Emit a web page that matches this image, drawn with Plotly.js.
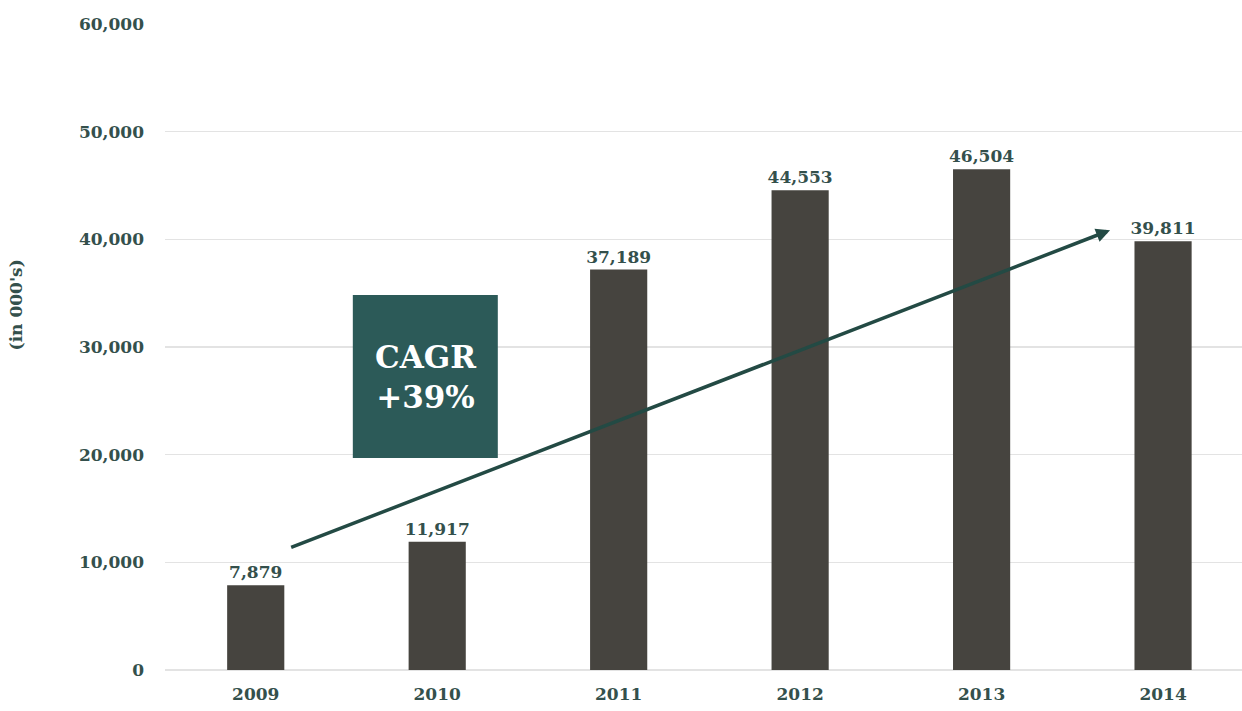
<!DOCTYPE html>
<html>
<head>
<meta charset="utf-8">
<script src="https://cdn.plot.ly/plotly-3.0.1.min.js"></script>
<style>html,body{margin:0;padding:0;background:#fff;}#chart{width:1242px;height:711px;}</style>
</head>
<body>
<div id="chart"></div>
<script>
const years = ['2009', '2010', '2011', '2012', '2013', '2014'];
const values = [7879, 11917, 37189, 44553, 46504, 39811];
const yTicks = [0, 10000, 20000, 30000, 40000, 50000, 60000];
const yTickLabels = ['0', '10,000', '20,000', '30,000', '40,000', '50,000', '60,000'];
const cagrText = 'CAGR<br>+39%';
const yTitle = "(in 000's)";

const font = 'DejaVu Serif, Georgia, serif';
const textColor = '#34504c';

const trace = {
  type: 'bar',
  x: years.map((_, i) => i),
  y: values,
  width: 0.315,
  marker: {color: '#46443f'},
  text: values.map(v => v.toLocaleString('en-US')),
  textposition: 'outside',
  constraintext: 'none',
  cliponaxis: false,
  textfont: {family: font, size: 17, color: textColor, weight: 'bold'},
  hoverinfo: 'skip'
};

const layout = {
  width: 1242, height: 711,
  margin: {l: 165, r: 0, t: 24, b: 41},
  paper_bgcolor: '#fff', plot_bgcolor: '#fff',
  showlegend: false,
  xaxis: {
    range: [-0.5, 5.435],
    tickvals: years.map((_, i) => i),
    ticktext: years,
    showgrid: false, zeroline: false, showline: false,
    ticks: '',
    ticklabelstandoff: 12,
    tickfont: {family: font, size: 17, color: textColor, weight: 'bold'},
    fixedrange: true
  },
  yaxis: {
    range: [0, 60000],
    tickvals: yTicks,
    ticktext: yTickLabels,
    showgrid: true, gridcolor: '#e3e3e3', gridwidth: 1.5,
    zeroline: true, zerolinecolor: '#e3e3e3', zerolinewidth: 1.5,
    showline: false, ticks: '',
    ticklabelstandoff: 20,
    tickfont: {family: font, size: 17, color: textColor, weight: 'bold'},
    fixedrange: true
  },
  shapes: [{
    type: 'rect', xref: 'x', yref: 'y',
    x0: 0.535, x1: 1.334, y0: 19680, y1: 34820,
    fillcolor: '#2c5a58', line: {width: 0}, layer: 'above'
  }],
  annotations: [
    {
      xref: 'x', yref: 'y', axref: 'x', ayref: 'y',
      x: 4.708, y: 40850, ax: 0.187, ay: 11330,
      showarrow: true, arrowhead: 2, arrowsize: 0.8, arrowwidth: 3.5,
      arrowcolor: '#234a44', text: ''
    },
    {
      xref: 'x', yref: 'y', x: 0.9345, y: 27250,
      text: cagrText, showarrow: false,
      font: {family: font, size: 31, color: '#ffffff', weight: 'bold'},
      align: 'center'
    },
    {
      xref: 'paper', yref: 'paper', x: -0.138, y: 0.565,
      xanchor: 'center', yanchor: 'middle',
      text: yTitle, textangle: -90, showarrow: false,
      font: {family: font, size: 17, color: textColor, weight: 'bold'}
    }
  ]
};

Plotly.newPlot('chart', [trace], layout, {displayModeBar: false, staticPlot: true});
</script>
</body>
</html>
